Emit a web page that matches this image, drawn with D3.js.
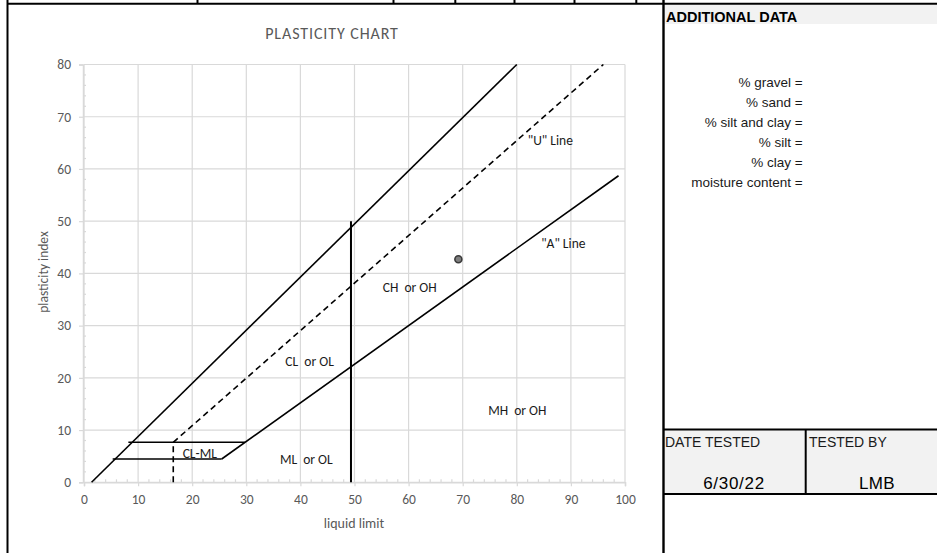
<!DOCTYPE html>
<html>
<head>
<meta charset="utf-8">
<script src="https://cdn.jsdelivr.net/npm/d3@7"></script>
<style>
  html, body { margin: 0; padding: 0; background: #fff; }
  svg { display: block; }
</style>
</head>
<body>
<svg id="sheet" width="937" height="553"></svg>
<script>
// ---- chart data (liquid limit, plasticity index) ----
const xTicks = [0, 10, 20, 30, 40, 50, 60, 70, 80, 90, 100];
const yTicks = [0, 10, 20, 30, 40, 50, 60, 70, 80];
const upperLimitLine = [[1.4, 0], [80, 80]];
const uLine = [[16.5, 7.66], [96, 80]];
const aLine = [[25.45, 4.46], [98.8, 58.7]];
const clmlUpper = [[8.2, 7.66], [29.75, 7.66]];
const clmlLower = [[5.3, 4.46], [25.45, 4.46]];
const uLineFoot = [[16.5, 0], [16.5, 7.66]];
const llDivider = [[49.35, 0], [49.35, 50]];
const samplePoints = [[69.2, 42.7]];
const zoneLabels = ["CL-ML", "ML  or OL", "CL  or OL", "CH  or OH", "MH  or OH", "\"U\" Line", "\"A\" Line"];
const zoneLabelLL = [21.4, 41.1, 41.7, 60.2, 80.1, 86.2, 88.6];
const zoneLabelPI = [5.5, 4.4, 23.1, 37.3, 13.7, 65.5, 45.7];

// ---- side panel text ----
const additionalFields = ["% gravel =", "% sand =", "% silt and clay =", "% silt =", "% clay =", "moisture content ="];
const dateTested = "6/30/22";
const testedBy = "LMB";

const svg = d3.select("#sheet");
const chartFont = "Calibri, Carlito, Lato, 'Open Sans', sans-serif";
const cellFont = "Arial, 'Liberation Sans', sans-serif";

svg.append("rect").attr("width", 937).attr("height", 553).attr("fill", "#fff");

// ---- scales ----
const x = d3.scaleLinear().domain([0, 100]).range([84, 625]);
const y = d3.scaleLinear().domain([0, 80]).range([482.3, 64.5]);

const plot = svg.append("g");

// gridlines
plot.append("g").selectAll("line").data(xTicks).join("line")
  .attr("x1", d => x(d)).attr("x2", d => x(d))
  .attr("y1", y(0)).attr("y2", y(80))
  .attr("stroke", "#d9d9d9").attr("stroke-width", 1.2);
plot.append("g").selectAll("line").data(yTicks).join("line")
  .attr("x1", x(0)).attr("x2", x(100))
  .attr("y1", d => y(d)).attr("y2", d => y(d))
  .attr("stroke", "#d9d9d9").attr("stroke-width", 1.2);

// axes
const yAxis = d3.axisLeft(y).tickValues(yTicks).tickSize(4).tickPadding(8);
const xAxis = d3.axisBottom(x).tickValues(xTicks).tickSize(4).tickPadding(8);
const gy = plot.append("g").attr("transform", `translate(${x(0) - 1},0)`).call(yAxis);
const gx = plot.append("g").attr("transform", `translate(0,${y(0)})`).call(xAxis);
[gx, gy].forEach(g => {
  g.select(".domain").attr("stroke", "#d9d9d9").attr("stroke-width", 1.5);
  g.selectAll(".tick line").attr("stroke", "#d9d9d9").attr("stroke-width", 1.2);
  g.selectAll(".tick text").attr("fill", "#595959")
    .style("font-family", chartFont).style("font-size", "13.5px");
});

// minor ticks (every 2 units, drawn inward)
const minorX = d3.range(0, 101, 2).filter(v => v % 10 !== 0);
const minorY = d3.range(0, 81, 2).filter(v => v % 10 !== 0);
plot.append("g").selectAll("line").data(minorX).join("line")
  .attr("x1", d => x(d)).attr("x2", d => x(d))
  .attr("y1", y(0)).attr("y2", y(0) - 3)
  .attr("stroke", "#d9d9d9").attr("stroke-width", 1.2);
plot.append("g").selectAll("line").data(minorY).join("line")
  .attr("x1", x(0) - 1).attr("x2", x(0) + 2)
  .attr("y1", d => y(d)).attr("y2", d => y(d))
  .attr("stroke", "#d9d9d9").attr("stroke-width", 1.2);

// titles
svg.append("text").attr("x", 332).attr("y", 33)
  .attr("text-anchor", "middle").attr("dominant-baseline", "central")
  .attr("fill", "#595959").style("font-family", chartFont).style("font-size", "16px")
  .style("letter-spacing", "0.9px")
  .text("PLASTICITY CHART");
svg.append("text").attr("x", 354).attr("y", 523)
  .attr("text-anchor", "middle").attr("dominant-baseline", "central")
  .attr("fill", "#595959").style("font-family", chartFont).style("font-size", "14px")
  .text("liquid limit");
svg.append("text").attr("transform", "translate(43,272) rotate(-90)")
  .attr("text-anchor", "middle").attr("dominant-baseline", "central")
  .attr("fill", "#595959").style("font-family", chartFont).style("font-size", "13.5px")
  .text("plasticity index");

// classification lines
const line = d3.line().x(d => x(d[0])).y(d => y(d[1]));
const solid = [upperLimitLine, aLine, clmlUpper, clmlLower];
plot.append("g").selectAll("path").data(solid).join("path")
  .attr("d", line).attr("fill", "none").attr("stroke", "#000").attr("stroke-width", 1.6);
plot.append("path").attr("d", line(llDivider)).attr("fill", "none")
  .attr("stroke", "#000").attr("stroke-width", 2);
plot.append("g").selectAll("path").data([uLine, uLineFoot]).join("path")
  .attr("d", line).attr("fill", "none").attr("stroke", "#000")
  .attr("stroke-width", 1.6).attr("stroke-dasharray", "6,4");

// zone labels
plot.append("g").selectAll("text").data(zoneLabels).join("text")
  .attr("x", (d, i) => x(zoneLabelLL[i])).attr("y", (d, i) => y(zoneLabelPI[i]))
  .attr("text-anchor", "middle").attr("dominant-baseline", "central")
  .attr("fill", "#1a1a1a").style("font-family", chartFont).style("font-size", "13.5px")
  .style("white-space", "pre").attr("xml:space", "preserve")
  .text(d => d);

// sample point
plot.append("g").selectAll("circle").data(samplePoints).join("circle")
  .attr("cx", d => x(d[0])).attr("cy", d => y(d[1])).attr("r", 3.5)
  .attr("fill", "#7f7f7f").attr("stroke", "#3a3a3a").attr("stroke-width", 1.6);

// ---- sheet grid / side panel ----
svg.append("rect").attr("x", 665).attr("y", 5).attr("width", 272).attr("height", 19).attr("fill", "#f2f2f2");
svg.append("rect").attr("x", 665).attr("y", 430).attr("width", 272).attr("height", 63).attr("fill", "#f2f2f2");

const rules = [
  [7, 3.7, 937, 3.7, 2],
  [7.5, 0, 7.5, 553, 2],
  [663.5, 0, 663.5, 553, 2.4],
  [663, 429.5, 937, 429.5, 2],
  [663, 494, 937, 494, 2],
  [805.7, 429, 805.7, 494, 2]
];
const topCellEdges = [197.5, 393.5, 455.3, 514.5, 574.5, 636.3];
topCellEdges.forEach(cx => rules.push([cx, 0, cx, 3.7, 2]));
svg.append("g").selectAll("line").data(rules).join("line")
  .attr("x1", d => d[0]).attr("y1", d => d[1]).attr("x2", d => d[2]).attr("y2", d => d[3])
  .attr("stroke", "#000").attr("stroke-width", d => d[4]);

svg.append("text").attr("x", 666).attr("y", 21.5)
  .attr("fill", "#000").style("font-family", cellFont).style("font-size", "14.5px").style("font-weight", "bold")
  .text("ADDITIONAL DATA");

svg.append("g").selectAll("text").data(additionalFields).join("text")
  .attr("x", 802.7).attr("y", (d, i) => 82.5 + i * 19.9)
  .attr("text-anchor", "end").attr("dominant-baseline", "central")
  .attr("fill", "#1a1a1a").style("font-family", cellFont).style("font-size", "13.5px")
  .text(d => d);

svg.append("text").attr("x", 665).attr("y", 447)
  .attr("fill", "#1a1a1a").style("font-family", cellFont).style("font-size", "14px")
  .text("DATE TESTED");
svg.append("text").attr("x", 809).attr("y", 447)
  .attr("fill", "#1a1a1a").style("font-family", cellFont).style("font-size", "14px")
  .text("TESTED BY");
svg.append("text").attr("x", 734).attr("y", 489)
  .attr("text-anchor", "middle")
  .attr("fill", "#000").style("font-family", cellFont).style("font-size", "17px").style("letter-spacing", "0.7px")
  .text(dateTested);
svg.append("text").attr("x", 877).attr("y", 489)
  .attr("text-anchor", "middle")
  .attr("fill", "#000").style("font-family", cellFont).style("font-size", "17px").style("letter-spacing", "0.4px")
  .text(testedBy);
</script>
</body>
</html>
